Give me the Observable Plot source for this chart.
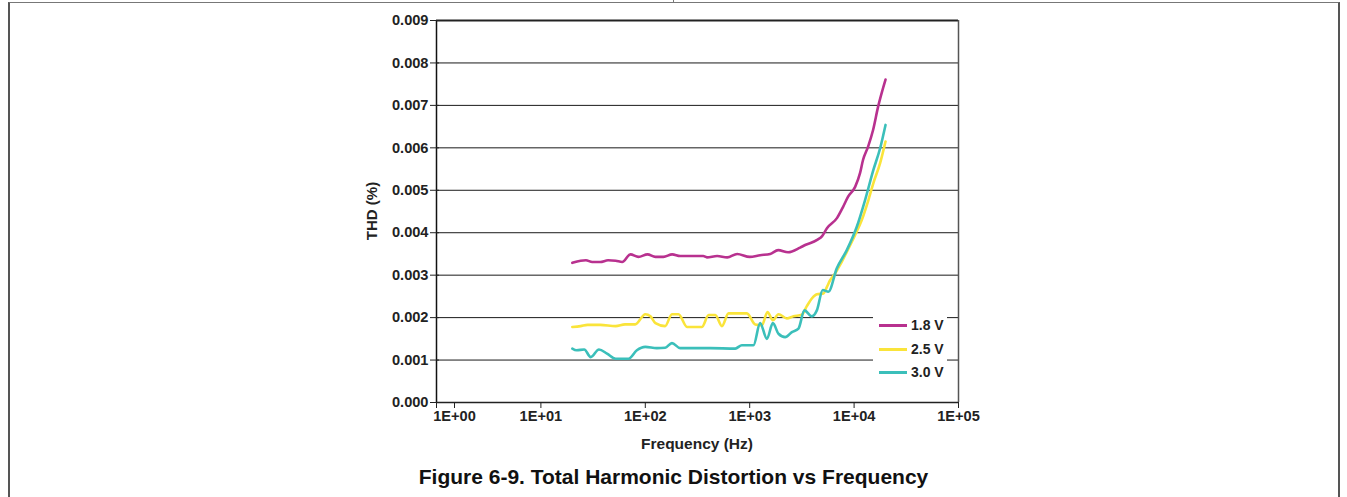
<!DOCTYPE html>
<html>
<head>
<meta charset="utf-8">
<script src="https://cdn.jsdelivr.net/npm/d3@7"></script>
<script src="https://cdn.jsdelivr.net/npm/@observablehq/plot@0.6"></script>
<style>
  html, body { margin: 0; padding: 0; background: #fff; }
  #wrap { position: relative; width: 1347px; height: 497px; overflow: hidden; font-family: "Liberation Sans", Arial, sans-serif; font-weight: bold; color: #222; }
  #frame { position: absolute; left: 8px; top: 2px; width: 1328px; height: 520px; border-top: 1px solid #777; border-left: 2px solid #555; border-right: 2px solid #555; }
  #notch { position: absolute; left: 673px; top: 0px; width: 1px; height: 3px; background: #777; }
  #chart { position: absolute; left: 0; top: 0; }
  #title { position: absolute; left: 0; width: 1347px; top: 466px; text-align: center; font-size: 21px; line-height: 22px; color: #111; }
  #xlabel { position: absolute; left: 597px; width: 200px; top: 435px; text-align: center; font-size: 15.5px; line-height: 18px; color: #222; }
  #ylabel { position: absolute; left: 272px; width: 200px; top: 202px; text-align: center; font-size: 15px; line-height: 18px; color: #222; transform: rotate(-90deg); }
  #legend { position: absolute; left: 873px; top: 312px; width: 74px; height: 74px; background: #fff; }
  .row { position: absolute; left: 6px; height: 16px; width: 68px; }
  .sw { position: absolute; left: 0; top: 7px; width: 28px; height: 2.5px; }
  .lb { position: absolute; left: 32px; top: 0; font-size: 14px; line-height: 16px; color: #222; white-space: nowrap; }
</style>
</head>
<body>
<div id="wrap">
  <div id="frame"></div>
  <div id="notch"></div>
  <div id="chart"></div>
  <div id="legend"></div>
  <div id="xlabel">Frequency (Hz)</div>
  <div id="ylabel">THD (%)</div>
  <div id="title">Figure 6-9. Total Harmonic Distortion vs Frequency</div>
</div>
<script>
// ---- data ----
const seriesNames = ["1.8 V", "2.5 V", "3.0 V"];
const seriesColors = ["#B8318F", "#FAE43A", "#3BBFBA"];

const freq18 = [20,24,27,31,37,44,52,60,72,86,105,125,149,181,216,359,389,488,609,759,1000,1259,1571,1874,2335,3041,3396,4426,4941,5517,6876,7847,8762,10232,11412,12190,13620,15200,16980,20000];
const thd18 = [0.00329,0.00334,0.00335,0.00331,0.00331,0.00335,0.00334,0.00331,0.00349,0.00343,0.00349,0.00343,0.00343,0.00349,0.00345,0.00345,0.00342,0.00345,0.00342,0.00350,0.00343,0.00347,0.00350,0.00359,0.00354,0.00365,0.00371,0.00383,0.00392,0.00411,0.00435,0.00461,0.00485,0.00508,0.00541,0.00572,0.00603,0.00642,0.00697,0.00761];

const freq25 = [20,24,28,37,52,64,80,100,112,125,155,180,208,251,349,404,468,542,627,755,940,1129,1309,1481,1667,1887,2270,2625,3160,3525,3937,4397,5084,5479,5892,6577,7343,8511,10230,11850,13710,15300,17750,20000];
const thd25 = [0.00178,0.00180,0.00183,0.00183,0.00180,0.00184,0.00184,0.00208,0.00203,0.00187,0.00180,0.00208,0.00208,0.00178,0.00178,0.00206,0.00206,0.00180,0.00210,0.00210,0.00210,0.00184,0.00182,0.00213,0.00194,0.00208,0.00198,0.00203,0.00207,0.00227,0.00245,0.00255,0.00257,0.00272,0.00288,0.00304,0.00324,0.00355,0.00395,0.00430,0.00477,0.00517,0.00564,0.00615];

const freq30 = [20,22,26,30,36,43,52,69,83,100,129,155,180,216,419,727,842,1087,1259,1461,1667,1887,2186,2535,2931,3343,3937,4397,5012,5675,6828,8511,10610,12740,15300,17750,20000];
const thd30 = [0.00127,0.00123,0.00125,0.00107,0.00125,0.00115,0.00103,0.00103,0.00123,0.00131,0.00128,0.00129,0.00140,0.00128,0.00128,0.00127,0.00135,0.00135,0.00187,0.00150,0.00187,0.00162,0.00154,0.00166,0.00174,0.00217,0.00203,0.00217,0.00265,0.00261,0.00316,0.00359,0.00414,0.00477,0.00548,0.00599,0.00654];

const xTicks = [1, 10, 100, 1000, 10000, 100000];
const xTickLabels = ["1E+00", "1E+01", "1E+02", "1E+03", "1E+04", "1E+05"];
const yTicks = [0, 0.001, 0.002, 0.003, 0.004, 0.005, 0.006, 0.007, 0.008, 0.009];
const yTickLabels = ["0.000","0.001","0.002","0.003","0.004","0.005","0.006","0.007","0.008","0.009"];

// ---- build table ----
const freqs = [freq18, freq25, freq30];
const thds = [thd18, thd25, thd30];
const rows = [];
seriesNames.forEach((s, i) => freqs[i].forEach((f, j) => rows.push({s, f, v: thds[i][j]})));

const xFmt = d => xTickLabels[xTicks.indexOf(d)];

const chart = Plot.plot({
  width: 1347,
  height: 462,
  marginLeft: 436,
  marginRight: 389,
  marginTop: 20,
  marginBottom: 60,
  style: {fontFamily: "'Liberation Sans', Arial, sans-serif", fontWeight: "bold", fontSize: "14.6px", color: "#222", background: "transparent", overflow: "visible"},
  x: {type: "log", domain: [1, 100000]},
  y: {domain: [0, 0.009]},
  color: {domain: seriesNames, range: seriesColors},
  marks: [
    Plot.ruleY(yTicks.slice(1, -1), {stroke: "#1a1a1a", strokeWidth: 1}),
    Plot.ruleY([0.009], {stroke: "#222", strokeWidth: 2}),
    Plot.ruleX([100000], {stroke: "#555", strokeWidth: 1.5}),
    Plot.line(rows, {x: "f", y: "v", z: "s", stroke: "s", strokeWidth: 2.6, curve: "monotone-x"}),
    Plot.ruleX([1], {stroke: "#111", strokeWidth: 1.5}),
    Plot.ruleY([0], {stroke: "#222", strokeWidth: 1.5}),
    Plot.axisX(xTicks.slice(1), {tickFormat: xFmt, tickSize: 6, tickPadding: 2, stroke: "#222", label: null}),
    Plot.axisX(xTicks.slice(0, 1), {tickFormat: xFmt, tickSize: 6, tickPadding: 2, stroke: "#222", label: null, dx: 18}),
    Plot.axisX(xTicks.slice(0, 1), {tickFormat: () => "", tickSize: 6, stroke: "#222", label: null}),
    Plot.axisY(yTicks, {tickFormat: d => yTickLabels[yTicks.indexOf(d)], tickSize: 6, tickPadding: 2, stroke: "#222", label: null}),
    Plot.axisY(yTicks, {tickFormat: () => "", tickSize: -3, stroke: "#222", label: null})
  ]
});
document.getElementById("chart").appendChild(chart);

// legend
const legend = document.getElementById("legend");
const rowTops = [5, 29, 52];
seriesNames.forEach((name, i) => {
  const r = document.createElement("div");
  r.className = "row";
  r.style.top = rowTops[i] + "px";
  r.innerHTML = `<div class="sw" style="background:${seriesColors[i]}"></div><div class="lb">${name}</div>`;
  legend.appendChild(r);
});
</script>
</body>
</html>
